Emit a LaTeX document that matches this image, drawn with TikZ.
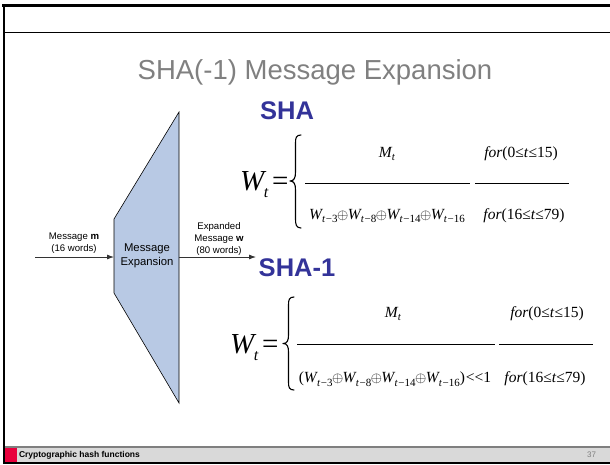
\documentclass[tikz,border=0pt]{standalone}
\usepackage{fontspec}
\setmainfont{Liberation Sans}
\newfontfamily\tms{Liberation Serif}
\usetikzlibrary{arrows.meta}
\definecolor{trapfill}{HTML}{B8C9E4}
\definecolor{titlegray}{HTML}{808080}
\definecolor{shablue}{HTML}{333399}
\definecolor{barfill}{HTML}{D9D9D9}
\definecolor{barline}{HTML}{7F7F7F}
\definecolor{footred}{HTML}{E8003C}
\newcommand{\subs}[1]{\raisebox{-0.25em}{\fontsize{11}{11}\selectfont #1}}
\newcommand{\Wi}[1]{\textit{W}\kern-1pt\subs{\textit{t}\kern0.5pt−#1}}
\newcommand{\ox}{\kern-0.5pt$\oplus$\kern-0.5pt}
\newcommand{\bigW}{\textit{W}\kern-2.5pt\raisebox{-0.25em}{\fontsize{16}{16}\selectfont\textit{t}}\kern3.5pt=}
\begin{document}
\begin{tikzpicture}[x=1pt,y=-1pt,
  txt/.style={inner sep=0pt,outer sep=0pt},
  lbl/.style={txt,align=center,font=\fontsize{9.6}{12}\selectfont},
  frm/.style={txt,font=\tms\fontsize{15.5}{15.5}\selectfont},
  big/.style={txt,anchor=base west,font=\tms\fontsize{29}{29}\selectfont},
  bracestyle/.style={line width=1.1pt,line cap=round,line join=round},
  arr/.style={line width=0.8pt,draw=black!80,-{Latex[length=7pt,width=5pt]}},
  rulel/.style={line width=0.9pt},
  heading/.style={txt,font=\bfseries\fontsize{25.5}{25.5}\selectfont,text=shablue}]
\useasboundingbox (0,0) rectangle (610,464);
% frame
\draw[line width=3pt] (2,5) -- (610,5);
\draw[line width=2pt] (4,4) -- (4,464);
\draw[line width=1pt] (3,32) -- (610,32);
% footer
\fill[barfill] (5,447) rectangle (610,462);
\draw[barline,line width=2pt] (5,447) -- (610,447);
\draw[line width=2pt] (3,463) -- (610,463);
\fill[footred] (5,448) rectangle (17,462);
\node[txt,anchor=west,font=\bfseries\fontsize{8.5}{8.5}\selectfont] (foot) at (19,455) {Cryptographic hash functions};
\node[txt,anchor=east,text=barline,font=\fontsize{8}{8}\selectfont] (pg) at (596,455) {37};
% title
\node[txt,text=titlegray,font=\fontsize{27.5}{27.5}\selectfont] (title) at (315,72) {SHA(-1) Message Expansion};
% trapezoid
\coordinate (tl) at (114,219);
\coordinate (bl) at (114,293);
\coordinate (tr) at (179,112);
\coordinate (br) at (179,403);
\draw[fill=trapfill,line width=0.6pt] (tl) -- (tr) -- (br) -- (bl) -- cycle;
\node[txt,align=center,font=\fontsize{11.3}{14}\selectfont] (mexp) at (147,256) {Message\\Expansion};
\coordinate (inL) at (35,257);
\coordinate (expL) at (114,257);
\coordinate (expR) at (179,257);
\coordinate (outR) at (256,257);
\draw[arr] (inL) -- (expL);
\draw[arr] (expR) -- (outR);
\node[lbl] (inlbl) at (74,243) {Message \textbf{m}\\(16 words)};
\node[lbl] (outlbl) at (219,239) {Expanded\\Message \textbf{w}\\(80 words)};
% SHA
\node[heading] (sha) at (287,111) {SHA};
\node[big] (w1) at (240,190) {\bigW};
\draw[bracestyle] (301,135) .. controls (296,135) and (295.5,138) .. (295.5,143)
  -- (295.5,172) .. controls (295.5,178) and (294,181) .. (290,181)
  .. controls (294,181) and (295.5,184) .. (295.5,190)
  -- (295.5,219) .. controls (295.5,224) and (296,228) .. (301,228);
\node[frm] (m1) at (387,154) {\textit{M}\kern-0.5pt\subs{\textit{t}}};
\node[frm] (f1a) at (521,154) {\textit{for}(0≤\textit{t}≤15)};
\coordinate (r1a) at (305,183); \coordinate (r1b) at (470,183);
\coordinate (r1c) at (475,183); \coordinate (r1d) at (569,183);
\draw[rulel] (r1a) -- (r1b);
\draw[rulel] (r1c) -- (r1d);
\node[frm] (e1) at (387,216) {\Wi{3}\ox\Wi{8}\ox\Wi{14}\ox\Wi{16}};
\node[frm] (f1b) at (524,216) {\textit{for}(16≤\textit{t}≤79)};
% SHA-1
\node[heading] (sha1) at (297,268) {SHA-1};
\node[big] (w2) at (230,353) {\bigW};
\draw[bracestyle] (294,297) .. controls (289,297) and (288.5,300) .. (288.5,305)
  -- (288.5,335) .. controls (288.5,341) and (287,343.5) .. (283,343.5)
  .. controls (287,343.5) and (288.5,346) .. (288.5,352)
  -- (288.5,382) .. controls (288.5,387) and (289,390) .. (294,390);
\node[frm] (m2) at (393,314) {\textit{M}\kern-0.5pt\subs{\textit{t}}};
\node[frm] (f2a) at (547,314) {\textit{for}(0≤\textit{t}≤15)};
\coordinate (r2a) at (297,344); \coordinate (r2b) at (495,344);
\coordinate (r2c) at (499,344); \coordinate (r2d) at (593,344);
\draw[rulel] (r2a) -- (r2b);
\draw[rulel] (r2c) -- (r2d);
\node[frm] (e2) at (395,379) {(\Wi{3}\ox\Wi{8}\ox\Wi{14}\ox\Wi{16})\kern1pt<<1};
\node[frm] (f2b) at (545,379) {\textit{for}(16≤\textit{t}≤79)};
\end{tikzpicture}
\end{document}
